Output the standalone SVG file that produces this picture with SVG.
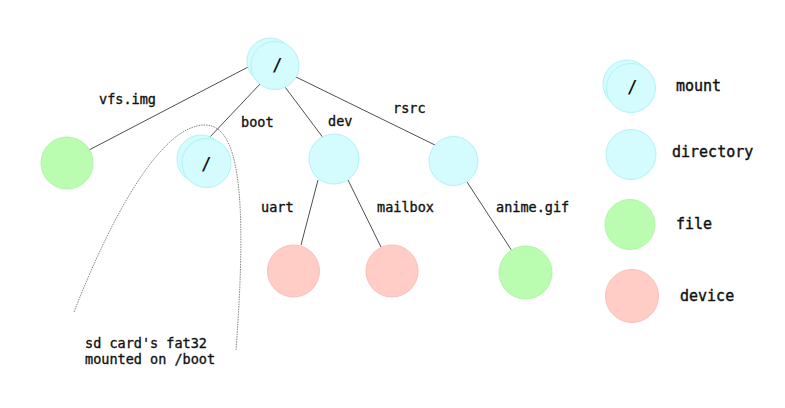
<svg xmlns="http://www.w3.org/2000/svg" width="785" height="408" viewBox="0 0 785 408">
<style>
.dir{fill:#d4fbfd;stroke:#b0f3f8;stroke-width:1}
.file{fill:#bafdb1;stroke:#b0f5a8;stroke-width:1}
.dev{fill:#ffccc6;stroke:#f9c0ba;stroke-width:1}
.lbl{font-family:"DejaVu Sans Mono","Liberation Mono",monospace;font-size:13.5px;fill:#111;stroke:#111;stroke-width:0.35}
.leg{font-family:"DejaVu Sans Mono","Liberation Mono",monospace;font-size:15px;fill:#111;stroke:#111;stroke-width:0.4}
.sl{font-family:"DejaVu Sans Mono","Liberation Mono",monospace;font-size:17px;font-weight:bold;fill:#111;text-anchor:middle}
.edge{stroke:#3a3a3a;stroke-width:0.9;fill:none}
</style>
<rect width="785" height="408" fill="#fff"/>
<g id="connectors">
<line class="edge" x1="252" y1="65" x2="89" y2="150"/>
<line class="edge" x1="261" y1="83" x2="209" y2="138"/>
<line class="edge" x1="285" y1="87" x2="324" y2="139"/>
<line class="edge" x1="296" y1="77" x2="435" y2="145"/>
<line class="edge" x1="318" y1="180" x2="301" y2="245"/>
<line class="edge" x1="348" y1="180" x2="381" y2="247"/>
<line class="edge" x1="467" y1="182" x2="512" y2="251"/>
<path d="M74,312 C110,220 160,125 205,125 C238,125 248,190 236,350" fill="none" stroke="#666" stroke-width="0.8" stroke-dasharray="1.5,1"/>
</g>
<g id="root">
<circle class="dir" cx="270" cy="61" r="23"/>
<circle class="dir" cx="275" cy="65.5" r="24"/>
<text class="sl" x="277" y="71">/</text>
</g>
<g id="vfs">
<circle class="file" cx="67" cy="163" r="26"/>
</g>
<g id="boot">
<circle class="dir" cx="201" cy="159" r="24"/>
<circle class="dir" cx="206.5" cy="163" r="24.5"/>
<text class="sl" x="206" y="170">/</text>
</g>
<g id="devdir">
<circle class="dir" cx="334" cy="159" r="25"/>
</g>
<g id="rsrc">
<circle class="dir" cx="453.5" cy="161" r="24.5"/>
</g>
<g id="uart">
<circle class="dev" cx="293.5" cy="271" r="26"/>
</g>
<g id="mailbox">
<circle class="dev" cx="392" cy="271" r="26"/>
</g>
<g id="anime">
<circle class="file" cx="525.5" cy="272.5" r="26.5"/>
</g>
<g id="labels">
<text class="lbl" x="99" y="104">vfs.img</text>
<text class="lbl" x="241" y="127">boot</text>
<text class="lbl" x="328" y="126">dev</text>
<text class="lbl" x="393" y="113">rsrc</text>
<text class="lbl" x="261" y="212">uart</text>
<text class="lbl" x="377" y="212">mailbox</text>
<text class="lbl" x="496" y="212">anime.gif</text>
<text class="lbl" x="85" y="348">sd card's fat32</text>
<text class="lbl" x="85" y="364">mounted on /boot</text>
</g>
<g id="legend-mount">
<circle class="dir" cx="627" cy="84" r="24"/>
<circle class="dir" cx="631" cy="88" r="24.5"/>
<text class="sl" x="632" y="93">/</text>
<text class="leg" x="676" y="91">mount</text>
</g>
<g id="legend-directory">
<circle class="dir" cx="631" cy="154.5" r="25"/>
<text class="leg" x="672" y="157">directory</text>
</g>
<g id="legend-file">
<circle class="file" cx="630" cy="224.5" r="25"/>
<text class="leg" x="676" y="229">file</text>
</g>
<g id="legend-device">
<circle class="dev" cx="632" cy="296" r="26.5"/>
<text class="leg" x="680" y="301">device</text>
</g>
</svg>
